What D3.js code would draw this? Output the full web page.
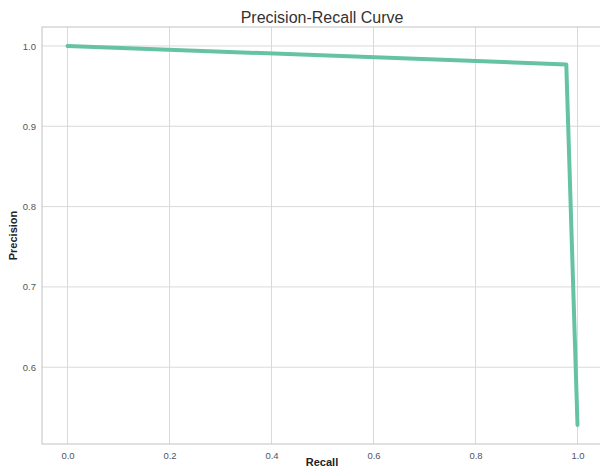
<!DOCTYPE html>
<html>
<head>
<meta charset="utf-8">
<script src="https://cdn.jsdelivr.net/npm/d3@7"></script>
<style>
  body { margin: 0; background: #fff; }
  svg { display: block; font-family: "Liberation Sans", Arial, sans-serif; }
</style>
</head>
<body>
<div id="chart"></div>
<script>
// curve points
const recall    = [0.0, 0.978, 1.0];
const precision = [1.0, 0.977, 0.528];
const xTicks = [0.0, 0.2, 0.4, 0.6, 0.8, 1.0];
const yTicks = [0.6, 0.7, 0.8, 0.9, 1.0];

const width = 600, height = 470;
const margin = {top: 27, right: -3, bottom: 26, left: 42};
const innerW = width - margin.left - margin.right,
      innerH = height - margin.top - margin.bottom;

const svg = d3.select("#chart")
  .append("svg")
    .attr("width", width)
    .attr("height", height);

const g = svg.append("g")
    .attr("transform", `translate(${margin.left},${margin.top})`);

const x = d3.scaleLinear().domain([-0.05, 1.05]).range([0, innerW]);
const y = d3.scaleLinear().domain([0.5044, 1.0236]).range([innerH, 0]);

// grid
g.append("g")
  .selectAll("line")
  .data(xTicks)
  .join("line")
    .attr("x1", d => x(d)).attr("x2", d => x(d))
    .attr("y1", 0).attr("y2", innerH)
    .attr("stroke", "#d9d9d9").attr("stroke-width", 1);

g.append("g")
  .selectAll("line")
  .data(yTicks)
  .join("line")
    .attr("y1", d => y(d)).attr("y2", d => y(d))
    .attr("x1", 0).attr("x2", innerW)
    .attr("stroke", "#d9d9d9").attr("stroke-width", 1);

// spines
g.append("rect")
    .attr("x", 0).attr("y", 0)
    .attr("width", innerW).attr("height", innerH)
    .attr("fill", "none")
    .attr("stroke", "#cccccc").attr("stroke-width", 1.2);

// axes, without tick marks
const xAxis = g.append("g")
    .attr("transform", `translate(0,${innerH})`)
    .call(d3.axisBottom(x).tickValues(xTicks).tickFormat(d3.format(".1f")).tickSize(0).tickPadding(8));
const yAxis = g.append("g")
    .call(d3.axisLeft(y).tickValues(yTicks).tickFormat(d3.format(".1f")).tickSize(0).tickPadding(6));
[xAxis, yAxis].forEach(a => {
  a.select(".domain").remove();
  a.selectAll("text")
    .style("font-size", "9.5px")
    .attr("fill", "#555");
});

// curve
const pts = recall.map((r, i) => [r, precision[i]]);
g.append("path")
    .datum(pts)
    .attr("fill", "none")
    .attr("stroke", "#66c2a5")
    .attr("stroke-width", 4)
    .attr("stroke-linejoin", "round")
    .attr("stroke-linecap", "round")
    .attr("d", d3.line().x(d => x(d[0])).y(d => y(d[1])));

// labels
svg.append("text")
    .attr("x", 322).attr("y", 23)
    .attr("text-anchor", "middle")
    .style("font-size", "16px")
    .attr("fill", "#333")
    .text("Precision-Recall Curve");

svg.append("text")
    .attr("x", 322).attr("y", 466)
    .attr("text-anchor", "middle")
    .style("font-size", "11px")
    .style("font-weight", "bold")
    .attr("fill", "#222")
    .text("Recall");

svg.append("text")
    .attr("transform", `translate(17,${margin.top + innerH / 2}) rotate(-90)`)
    .attr("text-anchor", "middle")
    .style("font-size", "11px")
    .style("font-weight", "bold")
    .attr("fill", "#222")
    .text("Precision");
</script>
</body>
</html>
